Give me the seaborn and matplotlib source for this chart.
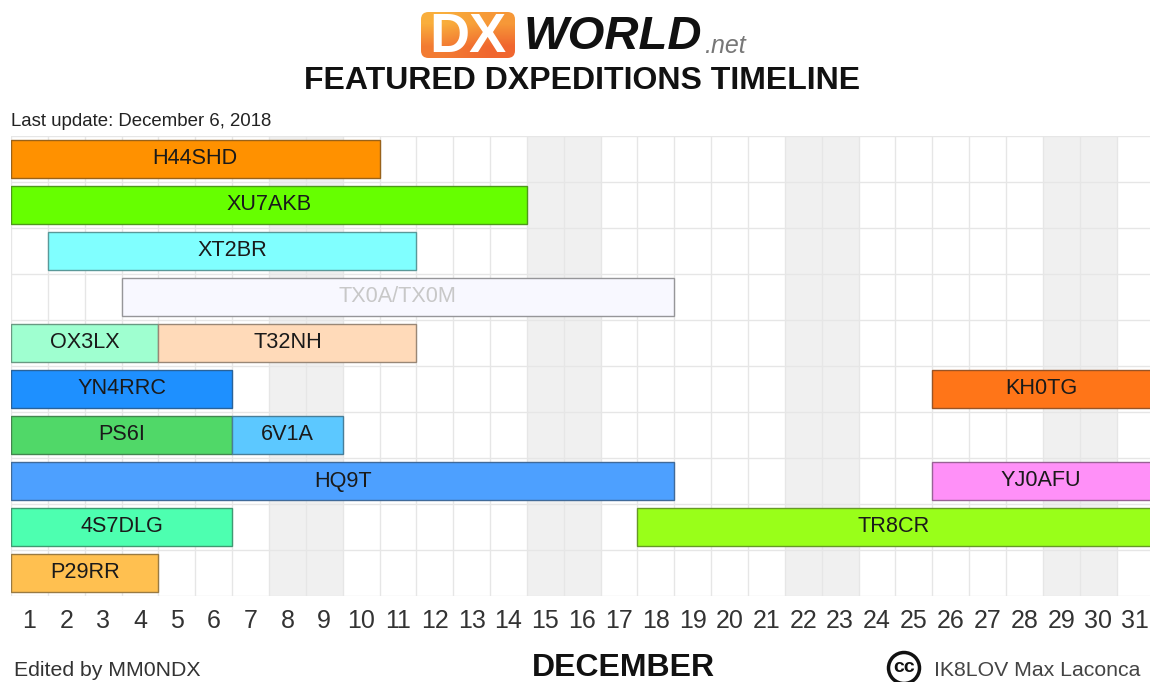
# -*- coding: utf-8 -*-
import numpy as np
import pandas as pd
import seaborn as sns
import matplotlib.pyplot as plt
from matplotlib.colors import to_rgb, LinearSegmentedColormap
from matplotlib.patches import Circle, FancyBboxPatch

sns.set_theme(style="white")
plt.rcParams['font.family'] = ['Liberation Sans', 'DejaVu Sans']

# =============================================================================
# Data
# =============================================================================

callsigns = ["H44SHD", "XU7AKB", "XT2BR", "TX0A/TX0M", "OX3LX", "T32NH", "YN4RRC", "KH0TG",
             "PS6I", "6V1A", "HQ9T", "YJ0AFU", "4S7DLG", "TR8CR", "P29RR"]
first_day = [1, 1, 2, 4, 1, 5, 1, 26, 1, 7, 1, 26, 1, 18, 1]
last_day = [10, 14, 11, 18, 4, 11, 6, 31, 6, 9, 18, 31, 6, 31, 4]
row = [0, 1, 2, 3, 4, 4, 5, 5, 6, 6, 7, 7, 8, 8, 9]
bar_colors = ["#FF9100", "#66FF00", "#80FFFF", "#F8F8FF", "#9FFFD0", "#FFDAB9", "#1E90FF", "#FF7518",
              "#50D868", "#5CC8FF", "#4DA0FF", "#FF90F8", "#4DFFB0", "#99FF19", "#FFC050"]
text_colors = ["#1a1a1a"] * 15
text_colors[3] = "#c8c8c8"

days = list(range(1, 32))
weekend_days = [8, 9, 15, 16, 22, 23, 29, 30]
row_order = [str(i) for i in range(10)]

df = pd.DataFrame({"callsign": callsigns, "start": np.array(first_day) - 1,
                   "length": np.array(last_day) - np.array(first_day) + 1,
                   "row": [str(r) for r in row]})

# =============================================================================
# Chart
# =============================================================================

W, H = 1150, 682
DAY_PX = 36.85
fig = plt.figure(figsize=(W / 100, H / 100), dpi=100)
ax = fig.add_axes([11 / W, 1 - 596 / H, (W - 11) / W, 460 / H])

for i in range(len(df)):
    darker = tuple(c * 0.5 + 0.1 for c in to_rgb(bar_colors[i]))
    sns.barplot(x=[df.length[i]], y=[df.row[i]], order=row_order, orient="h", left=[df.start[i]],
                color=bar_colors[i], saturation=1, width=0.826, edgecolor=darker, linewidth=1,
                ax=ax, zorder=3)
    ax.bar_label(ax.containers[-1], labels=[df.callsign[i]], label_type="center",
                 fontsize=15.6, color=text_colors[i], zorder=4)

for d in weekend_days:
    ax.axvspan(d - 1, d, color="#f0f0f0", lw=0, zorder=0)

ax.set_xticks(range(0, 32))
ax.set_xticklabels([])
ax.set_xticks(np.array(days) - 0.5, labels=[str(d) for d in days], minor=True)
ax.set_yticks(np.arange(-0.5, 10))
ax.set_yticklabels([])
# set_xticks widens the view, so the limits come after it
ax.set_xlim(0, (W - 11) / DAY_PX)
ax.set_ylim(9.5, -0.5)
ax.tick_params(axis="both", which="major", length=0)
ax.tick_params(axis="x", which="minor", length=0, pad=9, labelsize=18, labelcolor="#333333")
ax.grid(True, which="major", color="#e6e6e6", lw=1, zorder=1)
ax.set_axisbelow(True)
ax.set_xlabel("")
ax.set_ylabel("")
sns.despine(ax=ax, left=True, bottom=True, top=True, right=True)

# =============================================================================
# Header and footer
# =============================================================================

def px(x, y):
    return x / W, 1 - y / H

# logo box, orange fade from top left to bottom right
logo_ax = fig.add_axes([421 / W, 1 - 58 / H, 94 / W, 46 / H])
logo_cmap = LinearSegmentedColormap.from_list("logo", ["#F9AE3C", "#F0662F"])
logo_img = logo_ax.imshow([[0.0, 0.3], [0.7, 1.0]], cmap=logo_cmap, aspect="auto",
                          interpolation="bilinear", extent=(0, 1, 0, 1))
logo_ax.axis("off")
logo_clip = FancyBboxPatch((0, 0), 1, 1, boxstyle="round,pad=0,rounding_size=0.08",
                           transform=logo_ax.transAxes, facecolor="none", edgecolor="none",
                           mutation_aspect=2)
logo_ax.add_patch(logo_clip)
logo_img.set_clip_path(logo_clip)

fig.text(*px(468, 38), "DX", color="white", fontsize=40, fontweight="bold", ha="center", va="center")
fig.text(*px(524, 37), "WORLD", color="#111111", fontsize=34, fontweight="bold", style="italic",
         ha="left", va="center")
fig.text(*px(704, 46), ".net", color="#777777", fontsize=18, style="italic", ha="left", va="center")
fig.text(*px(582, 81), "FEATURED DXPEDITIONS TIMELINE", color="#111111", fontsize=23, fontweight="bold",
         ha="center", va="center")
fig.text(*px(11, 122), "Last update: December 6, 2018", color="#222222", fontsize=13.4, ha="left", va="center")

fig.text(*px(14, 671), "Edited by MM0NDX", color="#333333", fontsize=15.3, ha="left", va="center")
fig.text(*px(623, 668), "DECEMBER", color="#111111", fontsize=23, fontweight="bold", ha="center", va="center")
fig.text(*px(934, 671), "IK8LOV Max Laconca", color="#444444", fontsize=15.3, ha="left", va="center")

cc = Circle((904, H - 668), 15.5, transform=None, facecolor="white", edgecolor="#111111", lw=2.5)
fig.add_artist(cc)
fig.text(*px(904, 667), "cc", color="#111111", fontsize=14, fontweight="bold", ha="center", va="center")

fig.savefig("out.png", dpi=100)
